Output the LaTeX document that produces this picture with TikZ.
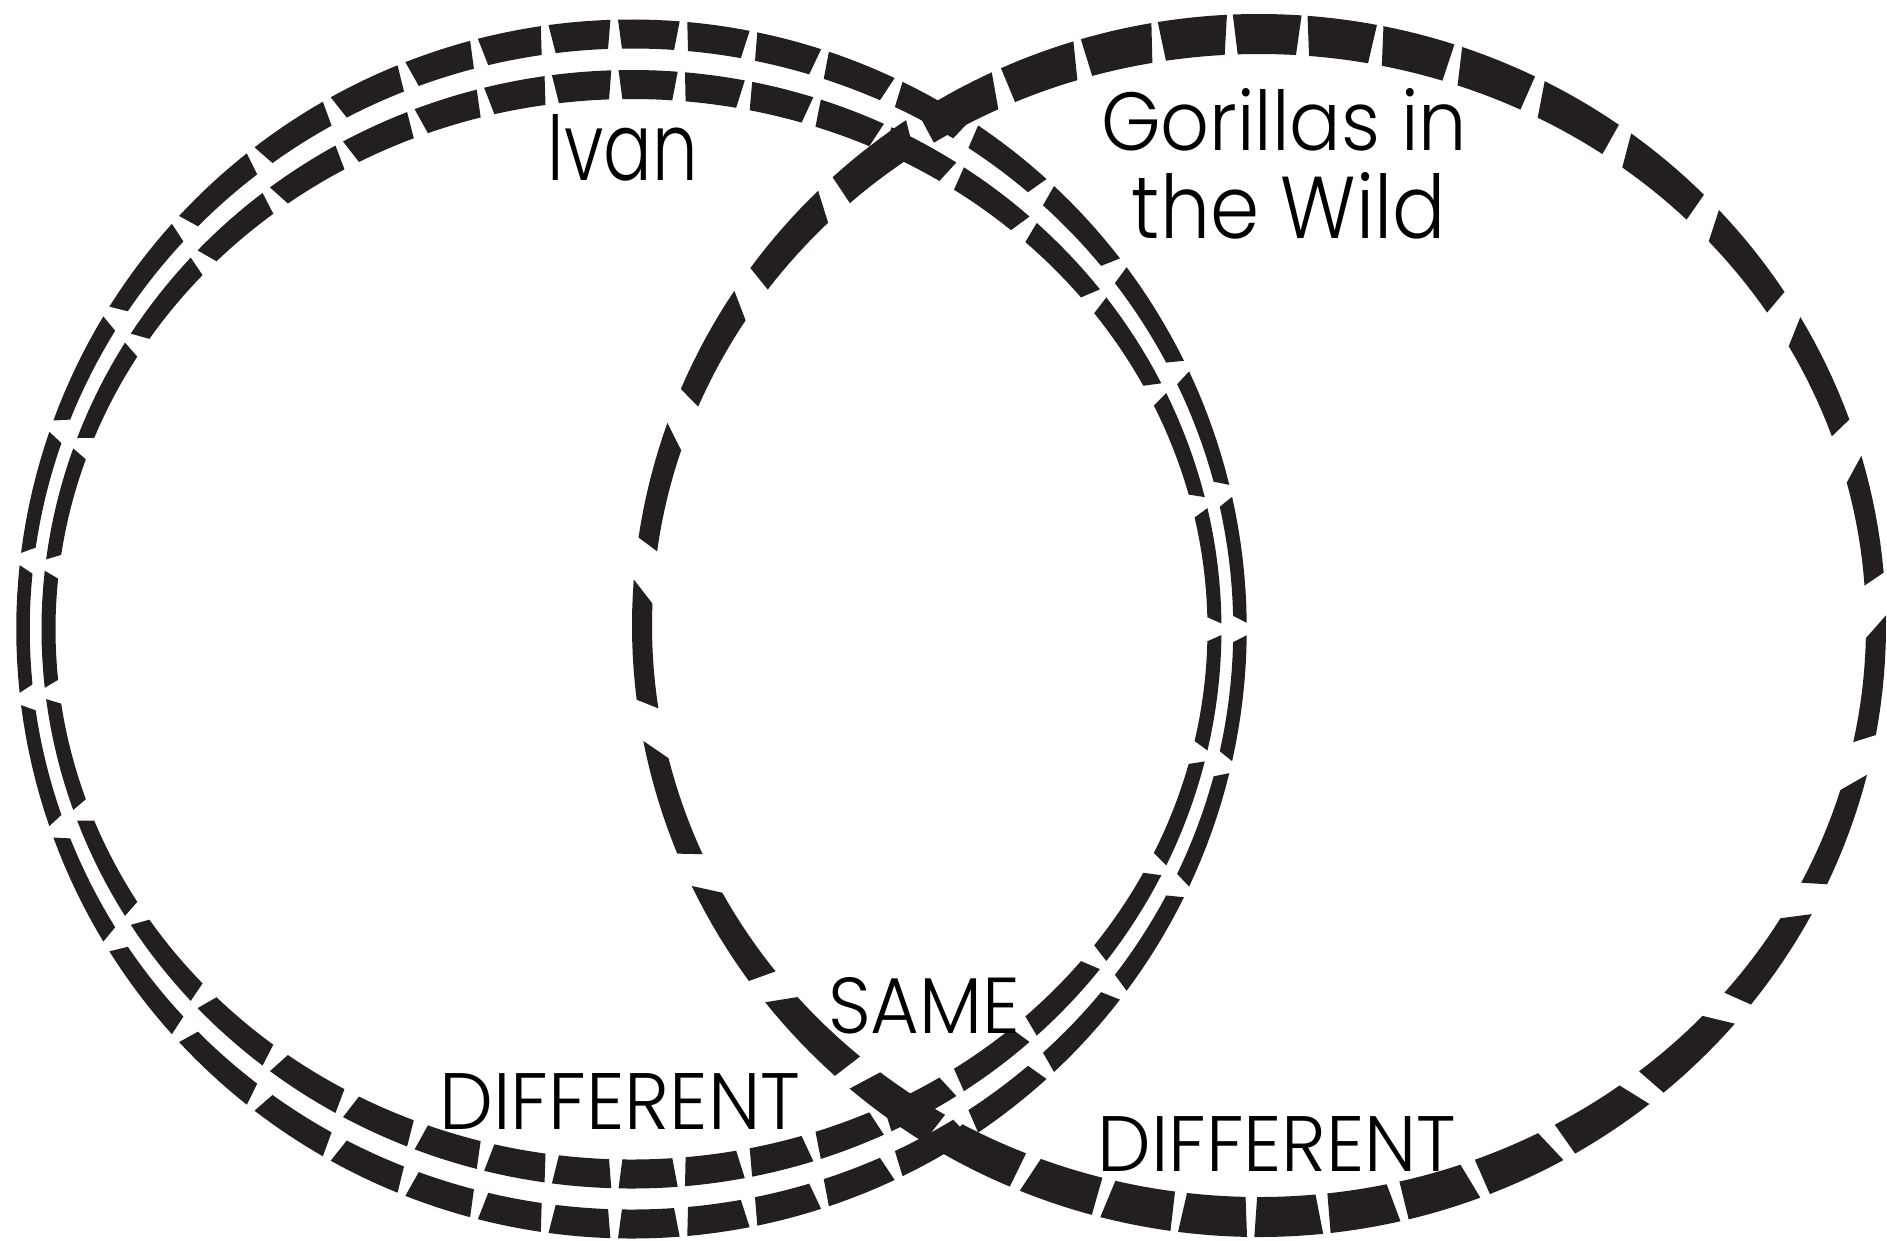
\documentclass[tikz,border=0pt]{standalone}
\usepackage{graphicx}
\usepackage{fontspec}
\newfontfamily\vennfont{Poppins Light}
\definecolor{ink}{RGB}{35,31,32}
% ring parameters are read from \Rcx \Rcy \Rrx \Rry \Rk \Rwt \Rws \RN \Rph \Rgt \Rgs \Rsl \Rsh
\newcommand\dashring{%
  \foreach \j in {1,...,\RN}{%
    \pgfmathsetmacro\cc{\Rph+(\j-1)*360/\RN}%
    \pgfmathsetmacro\ssq{\Rk*\Rk*sin(\cc)*sin(\cc)/DD(\cc,\Rk)}%
    \pgfmathsetmacro\hh{0.5*360/\RN*(1-(\Rgs+(\Rgt-\Rgs)*\ssq))}%
    \pgfmathsetmacro\sft{0.5*\Rsh*cos(\cc)}%
    \pgfmathsetmacro\aO{\cc-\hh*(1+\Rsl)-\sft}%
    \pgfmathsetmacro\bO{\cc+\hh*(1+\Rsl)-\sft}%
    \pgfmathsetmacro\aI{\cc+\hh*(1-\Rsl)+\sft}%
    \pgfmathsetmacro\bI{\cc-\hh*(1-\Rsl)+\sft}%
    \fill[ink] plot[domain=\aO:\bO,samples=9,variable=\p]
        ({ex(\p,\Rcx,\Rrx,\Rk,\Rwt,\Rws,1)},{ey(\p,\Rcy,\Rry,\Rk,\Rwt,\Rws,1)})
      -- plot[domain=\aI:\bI,samples=9,variable=\p]
        ({ex(\p,\Rcx,\Rrx,\Rk,\Rwt,\Rws,-1)},{ey(\p,\Rcy,\Rry,\Rk,\Rwt,\Rws,-1)})
      -- cycle;
  }%
}
\begin{document}
\begin{tikzpicture}[x=1pt,y=-1pt,
  declare function={
    DD(\p,\k)=cos(\p)*cos(\p)+\k*\k*sin(\p)*sin(\p);
    WW(\p,\k,\a,\b)=\b+(\a-\b)*\k*\k*sin(\p)*sin(\p)/DD(\p,\k);
    ex(\p,\cx,\rx,\k,\a,\b,\s)=\cx+(\rx+(\s)*0.5*WW(\p,\k,\a,\b))*cos(\p)/sqrt(DD(\p,\k));
    ey(\p,\cy,\ry,\k,\a,\b,\s)=\cy+(\ry+(\s)*0.5*WW(\p,\k,\a,\b))*\k*sin(\p)/sqrt(DD(\p,\k));
  },
  lbl/.style={inner sep=0pt, outer sep=0pt, anchor=base, text=black}
]
\fill[white] (0,0) rectangle (1887,1240);
\useasboundingbox (0,0) rectangle (1887,1240);
\coordinate (leftc) at (631.5,629);
\coordinate (rightc) at (1259,625.5);
% left circle: double dashed ring (outer)
\def\Rcx{631.5}\def\Rcy{629}\def\Rrx{608.5}\def\Rry{595}\def\Rk{1.45}
\def\Rwt{29}\def\Rws{13.5}\def\RN{39}\def\Rph{180}\def\Rgt{0.16}\def\Rgs{0.14}\def\Rsl{0.06}\def\Rsh{0}
\dashring
% left circle (inner)
\def\Rrx{583}\def\Rry{544.75}\def\Rcy{629.25}\def\Rws{14}
\dashring
% right circle: single heavy dashed ring
\def\Rcx{1259}\def\Rcy{625.5}\def\Rrx{617}\def\Rry{591.5}\def\Rk{1.52}
\def\Rwt{40}\def\Rws{20}\def\RN{35}\def\Rph{3.7}\def\Rgt{0.13}\def\Rgs{0.30}\def\Rsl{0.05}\def\Rsh{1.1}
\dashring
% labels
\node[lbl] (ivan) at (623,180) {\resizebox{150pt}{66pt}{\vennfont Ivan}};
\node[lbl] (gor1) at (1284,150) {\resizebox{366pt}{62pt}{\vennfont Gorillas in}};
\node[lbl] (gor2) at (1289,238) {\resizebox{314pt}{66pt}{\vennfont the Wild}};
\node[lbl] (same) at (924,1033) {\resizebox{192pt}{56pt}{\vennfont SAME}};
\node[lbl] (diffL) at (620,1129) {\resizebox{361pt}{56pt}{\vennfont DIFFERENT}};
\node[lbl] (diffR) at (1277,1171) {\resizebox{359pt}{55pt}{\vennfont DIFFERENT}};
\end{tikzpicture}
\end{document}
